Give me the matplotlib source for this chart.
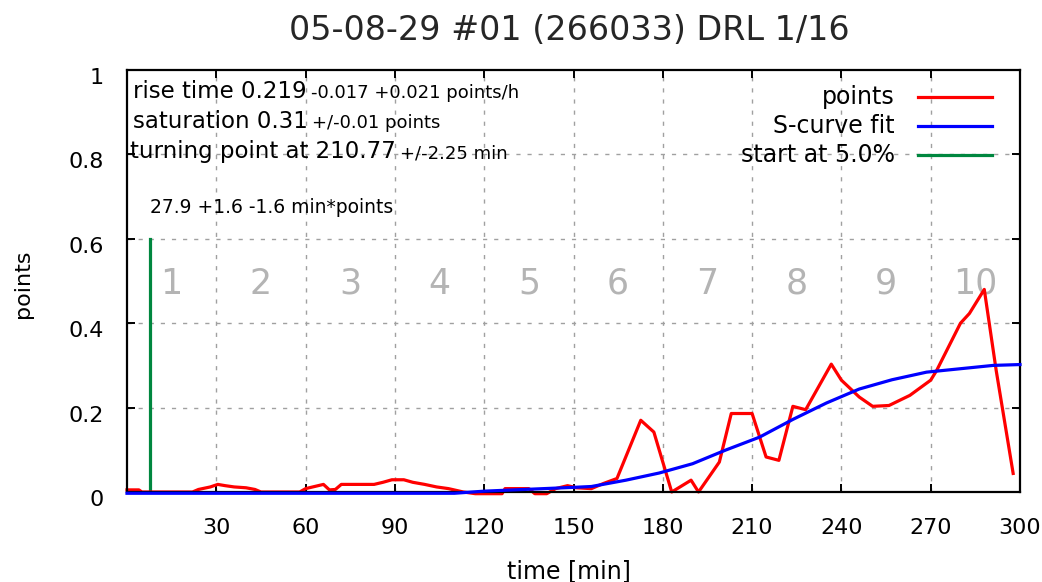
import matplotlib
matplotlib.use('Agg')
import matplotlib.pyplot as plt
import matplotlib.transforms as mtransforms

# measured red curve (time [min], points)
t_points = [0, 4, 5, 22, 24, 28, 30.5, 33, 36, 40, 43, 45, 58, 60, 63, 66, 68, 70,
            72, 83, 86, 89, 93, 96, 100, 104, 108, 113, 117, 126, 127, 135, 137,
            141, 144, 148, 151, 156, 160, 164.6, 172.6, 177, 183, 189.5, 192, 199,
            203, 210, 214.7, 219, 223.7, 228, 236.6, 240, 246, 250.5, 256, 263,
            270, 272, 280, 283, 288, 292, 297.7]
v_points = [0.005, 0.005, 0.0, 0.0, 0.006, 0.012, 0.018, 0.015, 0.012, 0.01, 0.006,
            0.0, 0.0, 0.008, 0.013, 0.018, 0.005, 0.006, 0.018, 0.018, 0.023, 0.029,
            0.029, 0.023, 0.018, 0.012, 0.008, 0.0, -0.004, -0.004, 0.008, 0.008,
            -0.004, -0.004, 0.008, 0.015, 0.01, 0.008, 0.02, 0.032, 0.17, 0.142,
            0.0, 0.028, 0.0, 0.071, 0.186, 0.186, 0.083, 0.075, 0.203, 0.195, 0.303,
            0.265, 0.225, 0.203, 0.205, 0.229, 0.265, 0.288, 0.40, 0.423, 0.48,
            0.288, 0.044]

# S-curve fit
t_fit = [0, 110, 120, 140, 150, 156, 167.6, 178.8, 190, 201, 212.5, 223.7, 235,
         246, 257, 268.6, 279.8, 291, 300]
v_fit = [-0.003, -0.003, 0.002, 0.008, 0.011, 0.013, 0.028, 0.045, 0.067, 0.099, 0.13,
         0.172, 0.211, 0.244, 0.266, 0.284, 0.292, 0.300, 0.302]

start_t = 7.6
start_top = 0.6

section_labels = [str(i) for i in range(1, 11)]
section_x = [15 + 30 * i for i in range(10)]

xticks = [30, 60, 90, 120, 150, 180, 210, 240, 270, 300]
yticks = [0, 0.2, 0.4, 0.6, 0.8, 1.0]
yticklabels = ['0', '0.2', '0.4', '0.6', '0.8', '1']

title = '05-08-29 #01 (266033) DRL 1/16'

plt.rcParams['font.family'] = 'DejaVu Sans'

RED, BLUE, GREEN = '#ff0000', '#0000ff', '#00873f'
LW = 2.3

fig = plt.figure(figsize=(10.42, 5.82), dpi=100)
ax = fig.add_axes([127 / 1042, 1 - 492 / 582, 893 / 1042, 422 / 582])

ax.set_xlim(0, 300)
ax.set_ylim(0, 1)

# grid like gnuplot
grid_kw = dict(color='#a0a0a0', linewidth=1.0, linestyle=(0, (3, 5)), zorder=1)
for x in xticks[:-1]:
    ax.axvline(x, **grid_kw)
for y in yticks[1:-1]:
    ax.axhline(y, **grid_kw)

for lbl, x in zip(section_labels, section_x):
    ax.text(x, 0.493, lbl, color='#b4b4b4', fontsize=25, ha='center', va='center', zorder=2)

ax.plot(t_points, v_points, color=RED, linewidth=LW, zorder=4, clip_on=False)
ax.plot(t_fit, v_fit, color=BLUE, linewidth=LW, zorder=7, clip_on=False)
ax.plot([start_t, start_t], [0, start_top], color=GREEN, linewidth=LW, zorder=3)

# frame and ticks
for s in ax.spines.values():
    s.set_linewidth(1.6)
    s.set_zorder(6)
ax.set_xticks(xticks)
ax.set_yticks(yticks)
ax.set_yticklabels(yticklabels)
ax.tick_params(direction='in', length=6, width=1.4, top=True, right=True,
               labelsize=16, colors='black')
ax.tick_params(axis='x', pad=19)
ax.tick_params(axis='y', pad=17)
shift = mtransforms.ScaledTranslation(0, -6 / 100, fig.dpi_scale_trans)
for lab in ax.get_yticklabels():
    lab.set_transform(lab.get_transform() + shift)

# annotations with big value + small error
rows = [
    (0.007, 0.934, 'rise time 0.219', '-0.017 +0.021 points/h'),
    (0.007, 0.863, 'saturation 0.31', '+/-0.01 points'),
    (0.003, 0.791, 'turning point at 210.77', '+/-2.25 min'),
]
for x, y, big, small in rows:
    bt = ax.text(x, y, big, transform=ax.transAxes, fontsize=16.5, va='baseline',
                 ha='left', zorder=7)
    ax.annotate(small, xy=(1.0, y), xycoords=(bt, 'axes fraction'),
                xytext=(3, 0), textcoords='offset points', fontsize=13,
                va='baseline', ha='left', zorder=7)
ax.text(0.026, 0.661, '27.9 +1.6 -1.6 min*points', transform=ax.transAxes,
        fontsize=13.5, va='baseline', ha='left')

# legend gnuplot style: text right aligned, sample on the right
legend = [('points', RED), ('S-curve fit', BLUE), ('start at 5.0%', GREEN)]
for i, (name, col) in enumerate(legend):
    yy = 0.936 - i * 0.069
    ax.text(0.860, yy, name, transform=ax.transAxes, fontsize=17, ha='right', va='center')
    ax.plot([0.886, 0.969], [yy, yy], transform=ax.transAxes, color=col,
            linewidth=LW, clip_on=False)

fig.text(569 / 1042, 1 - 30 / 582, title, fontsize=24, ha='center', va='center',
         color='#262626')
fig.text(568.5 / 1042, 1 - 559 / 582, 'time [min]', fontsize=17, ha='center', va='top')
fig.text(23 / 1042, 1 - 284 / 582, 'points', fontsize=16, ha='center', va='center',
         rotation=90)

fig.savefig('out.png', dpi=100)
